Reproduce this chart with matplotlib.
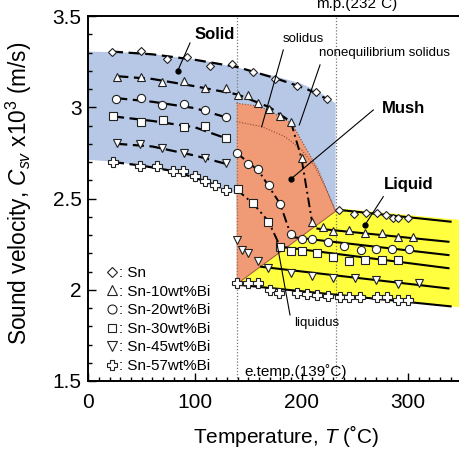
import matplotlib
matplotlib.use('Agg')
import matplotlib.pyplot as plt
from matplotlib.ticker import MultipleLocator, FuncFormatter

plt.rcParams['font.family'] = ['Liberation Sans', 'DejaVu Sans']
plt.rcParams['mathtext.fontset'] = 'custom'
plt.rcParams['mathtext.rm'] = 'Liberation Sans'
plt.rcParams['mathtext.it'] = 'Liberation Sans:italic'

# characteristic temperatures (degC)
t_eut = 139
t_mp = 232

sn_T = [22.3, 49, 74, 92.8, 114, 134.5, 154.7, 175, 195.5, 214, 224,
        235.2, 249.3, 260.6, 270.6, 279, 285.6, 290.9, 300.3]
sn_V = [3.301, 3.308, 3.263, 3.274, 3.228, 3.235, 3.195, 3.155, 3.116, 3.085, 3.045,
        2.437, 2.415, 2.422, 2.422, 2.410, 2.392, 2.392, 2.392]

sn10_T = [27, 49, 68.7, 89.7, 109.4, 129.1, 140, 149.5, 159.4, 169.8, 179.8, 190.1,
          200.2, 210.1, 219.9, 229.9, 244.6, 259.8, 275.4, 290.3, 305]
sn10_V = [3.167, 3.167, 3.136, 3.143, 3.103, 3.103, 3.067, 3.067, 3.025, 2.989, 2.952, 2.919,
          2.72, 2.37, 2.345, 2.324, 2.327, 2.309, 2.309, 2.287, 2.287]

sn20_T = [25.8, 49, 68.7, 89.7, 109.4, 129.1, 139.1, 149.5, 159.4, 169.5, 179.8,
          189.9, 200.2, 210.1, 224.6, 240.2, 255.6, 270, 285.3, 300.9]
sn20_V = [3.045, 3.052, 3.012, 3.016, 2.985, 2.948, 2.751, 2.689, 2.66, 2.574, 2.47,
          2.304, 2.278, 2.278, 2.26, 2.238, 2.220, 2.222, 2.225, 2.225]

sn30_T = [23.3, 49, 69.7, 89.7, 109.4, 128.8, 140, 154.7, 168.8, 179.8,
          189.9, 200.2, 214.8, 229.9, 244.6, 259.6, 275.3, 290.3]
sn30_V = [2.954, 2.921, 2.930, 2.893, 2.897, 2.830, 2.552, 2.474, 2.373, 2.236,
          2.214, 2.214, 2.2, 2.181, 2.158, 2.163, 2.163, 2.163]

sn45_T = [26.5, 48.4, 68.7, 89.7, 109.4, 128.8, 139.1, 143.8, 149.5, 159.4, 168.8,
          189.9, 209.6, 229.9, 250.2, 270, 290.3, 310.3]
sn45_V = [2.802, 2.799, 2.775, 2.748, 2.720, 2.693, 2.273, 2.218, 2.2, 2.158, 2.118,
          2.090, 2.075, 2.063, 2.066, 2.053, 2.032, 2.035]

sn57_T = [23.3, 48.4, 64.1, 79.6, 89, 100, 109.4, 118.8, 128.8,
          139.2, 150, 159.5, 170.4, 179.2, 195.5, 204.9, 214.8, 225.2, 236.2, 244.9,
          254.9, 270.6, 280, 290.9, 300.3]
sn57_V = [2.702, 2.678, 2.678, 2.651, 2.651, 2.623, 2.596, 2.574, 2.547,
          2.035, 2.035, 2.035, 1.998, 1.984, 1.981, 1.977, 1.971, 1.967, 1.962, 1.962,
          1.962, 1.962, 1.962, 1.944, 1.944]

# ---- fitted curves drawn in the figure ----
# solid state (dashed)
sn_fit_T = [22, 60, 100, 140, 175, 205, 224]
sn_fit_V = [3.305, 3.29, 3.26, 3.22, 3.16, 3.10, 3.045]
sn10_fit_T = [27, 60, 100, 140, 170, 190]
sn10_fit_V = [3.17, 3.155, 3.115, 3.07, 3.0, 2.92]
sn20_fit_T = [26, 60, 100, 129]
sn20_fit_V = [3.05, 3.03, 2.995, 2.945]
sn30_fit_T = [23, 60, 100, 129]
sn30_fit_V = [2.95, 2.925, 2.89, 2.83]
sn45_fit_T = [26, 60, 100, 129]
sn45_fit_V = [2.80, 2.785, 2.735, 2.69]
sn57_fit_T = [23, 50, 80, 110, 129]
sn57_fit_V = [2.70, 2.68, 2.65, 2.595, 2.547]
# mush (dash-dot)
sn10_mush_T = [190, 200, 210]
sn10_mush_V = [2.92, 2.72, 2.37]
sn20_mush_T = [139, 160, 180, 190]
sn20_mush_V = [2.75, 2.65, 2.47, 2.30]
sn30_mush_T = [139, 155, 169, 180]
sn30_mush_V = [2.55, 2.47, 2.375, 2.236]
# liquid (solid lines), start / end
liq_T = {'Sn': [236, 340], 'Sn10': [215, 338], 'Sn20': [189, 338],
         'Sn30': [180, 338], 'Sn45': [162, 338], 'Sn57': [139, 340]}
liq_V = {'Sn': [2.437, 2.373], 'Sn10': [2.335, 2.263], 'Sn20': [2.29, 2.190],
         'Sn30': [2.236, 2.118], 'Sn45': [2.126, 2.007], 'Sn57': [2.028, 1.909]}

# ---- phase regions ----
solid_top_T = [0, 50, 105, 143, 175, 199, 215, 232]
solid_top_V = [3.305, 3.298, 3.259, 3.213, 3.17, 3.131, 3.09, 3.022]
solid_bot_T = [0, 23, 50, 86, 117, 139]
solid_bot_V = [2.712, 2.702, 2.68, 2.638, 2.565, 2.528]
noneq_T = [139, 155, 168.8, 190.8, 203.3, 215.8, 225.2, 232]
noneq_V = [3.022, 3.01, 2.985, 2.912, 2.784, 2.656, 2.528, 2.43]
solidus_T = [139, 162.6, 184.5, 200.2, 212.7, 222, 232]
solidus_V = [2.921, 2.894, 2.839, 2.766, 2.674, 2.565, 2.43]
liquidus_T = [139, 232]
liquidus_V = [2.03, 2.43]
liquid_T = [139, 232, 236, 350, 350]
liquid_V = [2.03, 2.43, 2.445, 2.382, 1.903]

fig = plt.figure(figsize=(4.6, 4.62), dpi=100)
ax = fig.add_axes([88.5 / 460, 1 - 381 / 462, 372.75 / 460, 365 / 462])

blue = '#b6c8e6'
salmon = '#f09b76'
yellow = '#ffff40'

# solid region
bx = solid_top_T + [t_mp, t_eut] + solid_bot_T[::-1]
by = solid_top_V + [2.43, 2.43] + solid_bot_V[::-1]
ax.fill(bx, by, color=blue, lw=0, zorder=0)
# mush region
ax.fill(noneq_T + [t_eut], noneq_V + [liquidus_V[0]], color=salmon, lw=0, zorder=0.5)
# liquid region
ax.fill(liquid_T, liquid_V, color=yellow, lw=0, zorder=0.5)

ax.plot(noneq_T, noneq_V, ls=(0, (1, 1.5)), color='#8b4a3a', lw=0.8, zorder=1)
ax.plot(solidus_T, solidus_V, ls=(0, (1, 1.5)), color='#8b4a3a', lw=0.8, zorder=1)
ax.plot(liquidus_T, liquidus_V, color='#a05040', lw=0.7, zorder=1)

ax.axvline(t_eut, color='#777777', ls=(0, (1, 1.5)), lw=0.9, zorder=1)
ax.axvline(t_mp, color='#777777', ls=(0, (1, 1.5)), lw=0.9, zorder=1)

dash = (0, (5, 2.5))
dashdot = (0, (5, 2, 1, 2))
for fx, fy in [(sn_fit_T, sn_fit_V), (sn10_fit_T, sn10_fit_V), (sn20_fit_T, sn20_fit_V),
               (sn30_fit_T, sn30_fit_V), (sn45_fit_T, sn45_fit_V), (sn57_fit_T, sn57_fit_V)]:
    ax.plot(fx, fy, color='black', ls=dash, lw=1.6, zorder=2)
for fx, fy in [(sn10_mush_T, sn10_mush_V), (sn20_mush_T, sn20_mush_V),
               (sn30_mush_T, sn30_mush_V)]:
    ax.plot(fx, fy, color='black', ls=dashdot, lw=1.4, zorder=2)
for k in liq_T:
    ax.plot(liq_T[k], liq_V[k], color='black', lw=1.5, zorder=2)

series = [(sn_T, sn_V, 'D', 4.3, ': Sn'),
          (sn10_T, sn10_V, '^', 6.3, ': Sn-10wt%Bi'),
          (sn20_T, sn20_V, 'o', 5.9, ': Sn-20wt%Bi'),
          (sn30_T, sn30_V, 's', 5.4, ': Sn-30wt%Bi'),
          (sn45_T, sn45_V, 'v', 6.3, ': Sn-45wt%Bi'),
          (sn57_T, sn57_V, 'P', 6.5, ': Sn-57wt%Bi')]
handles = []
for x, y, m, ms, lab in series:
    h, = ax.plot(x, y, ls='none', marker=m, ms=ms, mfc='white', mec='#222222',
                 mew=0.8, zorder=3, label=lab)
    handles.append(h)

leg = ax.legend(handles=handles, loc='lower left', bbox_to_anchor=(0.035, 0.005),
                frameon=False, fontsize=11, handlelength=0.6, handletextpad=0.15,
                labelspacing=0.3, borderaxespad=0, markerscale=1.1)

# annotations
def leader(x0, y0, x1, y1, dot=False):
    ax.plot([x0, x1], [y0, y1], color='black', lw=0.8, zorder=4)
    if dot:
        ax.plot([x1], [y1], 'o', color='black', ms=3.5, zorder=4)

ax.text(118.9, 3.396, 'Solid', fontsize=12, fontweight='bold', ha='center', va='center')
leader(95.3, 3.352, 83.8, 3.2, dot=True)
ax.text(201.7, 3.372, 'solidus', fontsize=9.5, ha='center', va='center')
leader(182.9, 3.314, 162.6, 2.893)
ax.text(278.4, 3.296, 'nonequilibrium solidus', fontsize=9.5, ha='center', va='center')
leader(217.4, 3.232, 197.9, 2.903)
ax.text(295.6, 2.994, 'Mush', fontsize=12, fontweight='bold', ha='center', va='center')
leader(267.4, 2.985, 190.1, 2.607, dot=True)
ax.text(300.3, 2.574, 'Liquid', fontsize=12, fontweight='bold', ha='center', va='center')
leader(276.8, 2.510, 259.6, 2.355, dot=True)
ax.text(214.6, 1.818, 'liquidus', fontsize=9.5, ha='center', va='center')
leader(176.7, 2.263, 189.2, 1.862)
ax.text(146, 1.527, 'e.temp.(139˚C)', fontsize=11, ha='left', va='baseline')
ax.text(252, 3.545, 'm.p.(232˚C)', fontsize=11, ha='center', va='baseline', clip_on=False)

ax.set_xlim(0, 350)
ax.set_ylim(1.5, 3.5)
ax.xaxis.set_major_locator(MultipleLocator(100))
ax.xaxis.set_minor_locator(MultipleLocator(10))
ax.yaxis.set_major_locator(MultipleLocator(0.5))
ax.yaxis.set_minor_locator(MultipleLocator(0.1))
ax.yaxis.set_major_formatter(FuncFormatter(lambda v, p: '%g' % v))
ax.tick_params(which='both', direction='in', width=1, labelsize=15)
ax.tick_params(which='major', length=6)
ax.tick_params(which='minor', length=3)
ax.tick_params(axis='x', pad=9)
ax.tick_params(axis='y', pad=5)
for s in ax.spines.values():
    s.set_linewidth(1.4)

ax.set_xlabel('Temperature, $T$ (˚C)', fontsize=15)
ax.set_ylabel('Sound velocity, $C_{sv}$ x10$^3$ (m/s)', fontsize=16.3)
ax.xaxis.set_label_coords(0.53, -0.115)
ax.yaxis.set_label_coords(-0.145, 0.515)

fig.savefig('out.png', dpi=100)
